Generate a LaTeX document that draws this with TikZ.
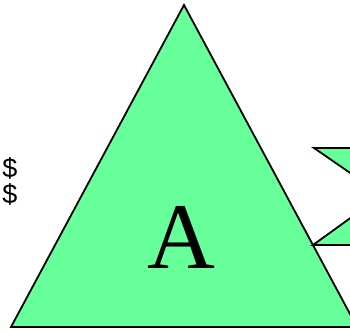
\documentclass[tikz,border=0pt]{standalone}
\usepackage{fontspec}
\setmainfont{Liberation Serif}
\newfontfamily\sansf{Liberation Sans}
\definecolor{trigreen}{RGB}{102,255,153}
\begin{document}
\begin{tikzpicture}[x=1pt,y=-1pt,
  shapefill/.style={fill=trigreen,draw=black,line width=1.8pt,line join=miter},
  biglabel/.style={inner sep=0pt,font=\fontsize{94}{94}\selectfont},
  sidelabel/.style={inner sep=0pt,align=center,font=\sansf\fontsize{27}{26}\selectfont}]
\useasboundingbox (0,0) rectangle (350,331);
\clip (0,0) rectangle (350,331);
\draw[shapefill] (184,5) -- (11,327) -- (357,327) -- cycle;
\draw[shapefill] (314,148) -- (385,148) -- (385,197) -- cycle;
\draw[shapefill] (313,245) -- (385,245) -- (385,193) -- cycle;
\node[biglabel] (A) at (181,237) {A};
\node[sidelabel] (dollars) at (10,181) {\$\\\$};
\end{tikzpicture}
\end{document}
